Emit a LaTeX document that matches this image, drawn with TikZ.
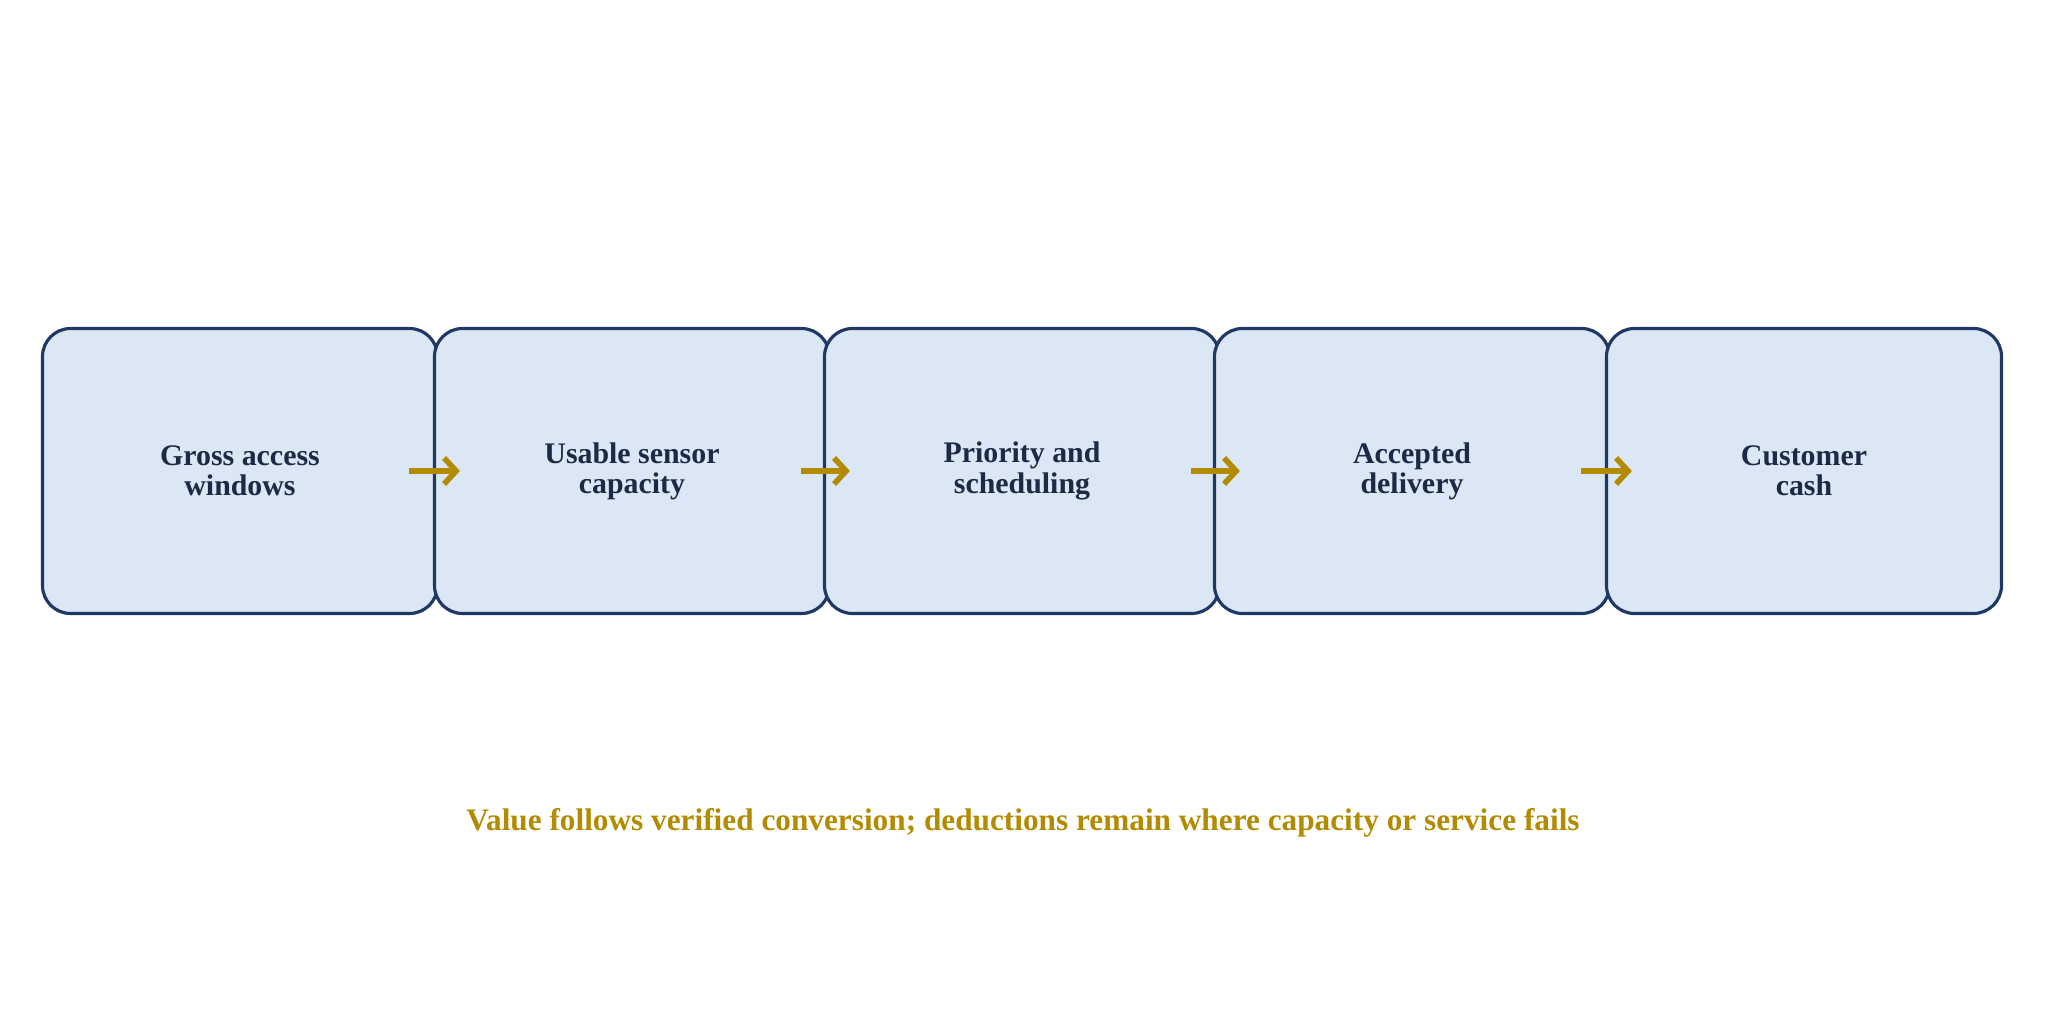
\documentclass[tikz,border=0pt]{standalone}
\usepackage{fontspec}
\setmainfont{Liberation Serif}
\usetikzlibrary{arrows.meta}
\definecolor{boxfill}{HTML}{DCE7F5}
\definecolor{boxline}{HTML}{1F3864}
\definecolor{boxtext}{HTML}{1B2A45}
\definecolor{gold}{HTML}{B38B00}
\begin{document}
\begin{tikzpicture}[stage/.style={rectangle,rounded corners=0.28cm,draw=boxline,fill=boxfill,line width=0.9pt,minimum width=3.95cm,minimum height=2.85cm,align=center,text=boxtext,font=\fontsize{8.5}{8.6}\selectfont\bfseries},
  flow/.style={-{Straight Barb[length=1.2mm,width=2.6mm]},draw=gold,line width=1.6pt}]
  \useasboundingbox (0,0) rectangle (20.46,-10.34);

  \node[stage] (s1) at (2.40,-4.71) {Gross access\\windows};
  \node[stage] (s2) at (6.32,-4.71) {Usable sensor\\capacity};
  \node[stage] (s3) at (10.22,-4.71) {Priority and\\scheduling};
  \node[stage] (s4) at (14.12,-4.71) {Accepted\\delivery};
  \node[stage] (s5) at (18.04,-4.71) {Customer\\cash};

  \node[text=gold,font=\fontsize{8.9}{10}\selectfont\bfseries] (note) at (10.23,-8.23)
    {Value follows verified conversion; deductions remain where capacity or service fails};

  \draw[flow] ([xshift=-0.3cm]s1.east) -- ([xshift=0.27cm]s2.west);
  \draw[flow] ([xshift=-0.3cm]s2.east) -- ([xshift=0.27cm]s3.west);
  \draw[flow] ([xshift=-0.3cm]s3.east) -- ([xshift=0.27cm]s4.west);
  \draw[flow] ([xshift=-0.3cm]s4.east) -- ([xshift=0.27cm]s5.west);
\end{tikzpicture}
\end{document}
